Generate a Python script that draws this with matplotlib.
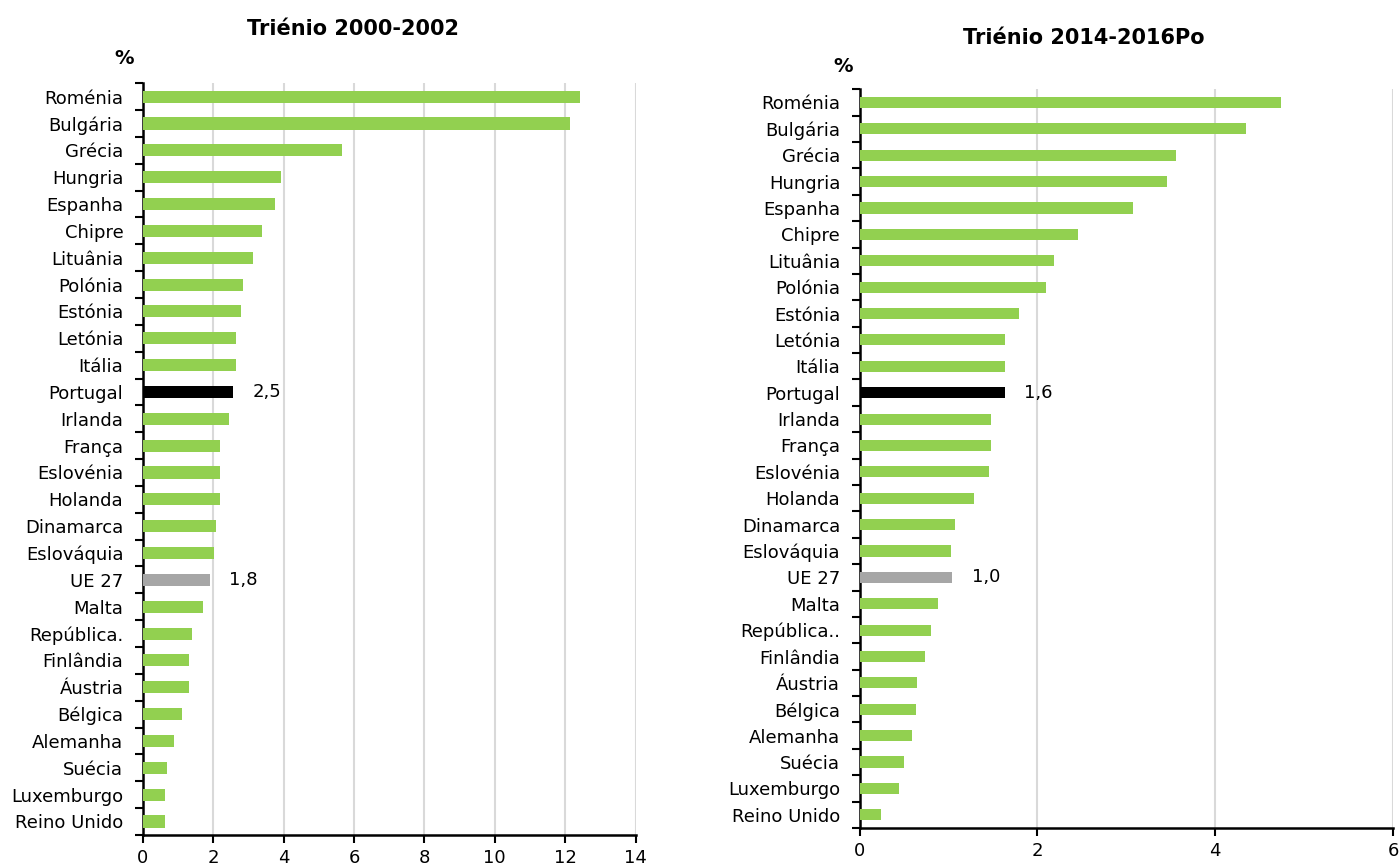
import numpy as np
import matplotlib.pyplot as plt
from matplotlib.ticker import FixedLocator

plt.rcParams['font.family'] = ['DejaVu Sans']

# Países (de cima para baixo) e valores de cada triénio
paises_2000 = ['Roménia', 'Bulgária', 'Grécia', 'Hungria', 'Espanha', 'Chipre', 'Lituânia',
               'Polónia', 'Estónia', 'Letónia', 'Itália', 'Portugal', 'Irlanda', 'França',
               'Eslovénia', 'Holanda', 'Dinamarca', 'Eslováquia', 'UE 27', 'Malta',
               'República.', 'Finlândia', 'Áustria', 'Bélgica', 'Alemanha', 'Suécia',
               'Luxemburgo', 'Reino Unido']
valores_2000 = [12.42, 12.15, 5.67, 3.92, 3.75, 3.38, 3.12, 2.85, 2.80, 2.64, 2.64, 2.57, 2.46,
                2.20, 2.20, 2.20, 2.09, 2.03, 1.91, 1.71, 1.39, 1.32, 1.32, 1.11, 0.90, 0.69,
                0.62, 0.62]

paises_2014 = ['Roménia', 'Bulgária', 'Grécia', 'Hungria', 'Espanha', 'Chipre', 'Lituânia',
               'Polónia', 'Estónia', 'Letónia', 'Itália', 'Portugal', 'Irlanda', 'França',
               'Eslovénia', 'Holanda', 'Dinamarca', 'Eslováquia', 'UE 27', 'Malta',
               'República..', 'Finlândia', 'Áustria', 'Bélgica', 'Alemanha', 'Suécia',
               'Luxemburgo', 'Reino Unido']
valores_2014 = [4.74, 4.35, 3.56, 3.46, 3.08, 2.46, 2.19, 2.10, 1.79, 1.64, 1.64, 1.63, 1.48,
                1.48, 1.46, 1.29, 1.07, 1.03, 1.04, 0.88, 0.80, 0.74, 0.65, 0.63, 0.59, 0.50,
                0.44, 0.24]

# Rótulos mostrados junto às barras de Portugal e UE 27
rotulos_2000 = {'Portugal': '2,5', 'UE 27': '1,8'}
rotulos_2014 = {'Portugal': '1,6', 'UE 27': '1,0'}

VERDE = '#92D050'
CINZA = '#A6A6A6'


def desenhar_painel(ax, paises, valores, rotulos, xmax, xticks, altura):
    n = len(paises)
    y = np.arange(n)[::-1]
    cores = []
    for p in paises:
        if p == 'Portugal':
            cores.append('black')
        elif p == 'UE 27':
            cores.append(CINZA)
        else:
            cores.append(VERDE)
    ax.barh(y, valores, height=altura, color=cores, zorder=3)

    # Rótulos de valor
    for yi, p, v in zip(y, paises, valores):
        if p in rotulos:
            ax.annotate(rotulos[p], (v, yi), xytext=(14, 0), textcoords='offset points',
                        va='center', ha='left', fontsize=13)

    ax.set_xlim(0, xmax)
    ax.set_ylim(-0.5, n - 0.5)
    ax.set_xticks(xticks)
    ax.set_xticklabels([str(t) for t in xticks], fontsize=13)
    ax.set_yticks(y)
    ax.set_yticklabels(paises, fontsize=13)
    ax.yaxis.set_minor_locator(FixedLocator(np.arange(-0.5, n, 1)))
    ax.tick_params(axis='y', which='major', length=0, pad=14)
    ax.tick_params(axis='y', which='minor', length=6, width=1.5, color='black')
    ax.tick_params(axis='x', length=6, width=1.5, pad=4)
    ax.grid(axis='x', color='#D9D9D9', linewidth=1.5, zorder=0)
    ax.set_axisbelow(True)
    for s in ['top', 'right']:
        ax.spines[s].set_visible(False)
    for s in ['left', 'bottom']:
        ax.spines[s].set_linewidth(1.8)


fig = plt.figure(figsize=(14, 8.67), dpi=100)

ax1 = fig.add_axes([0.102, 0.037, 0.352, 0.867])
desenhar_painel(ax1, paises_2000, valores_2000, rotulos_2000,
                14, list(range(0, 15, 2)), 0.45)
fig.text(0.252, 0.967, 'Triénio 2000-2002', ha='center', va='center',
         fontsize=15, fontweight='bold')
fig.text(0.089, 0.933, '%', ha='center', va='center', fontsize=14, fontweight='bold')

ax2 = fig.add_axes([0.614, 0.045, 0.381, 0.852])
desenhar_painel(ax2, paises_2014, valores_2014, rotulos_2014,
                6, [0, 2, 4, 6], 0.42)
fig.text(0.774, 0.956, 'Triénio 2014-2016Po', ha='center', va='center',
         fontsize=15, fontweight='bold')
fig.text(0.602, 0.923, '%', ha='center', va='center', fontsize=14, fontweight='bold')

plt.savefig('out.png', dpi=100)
plt.close()
